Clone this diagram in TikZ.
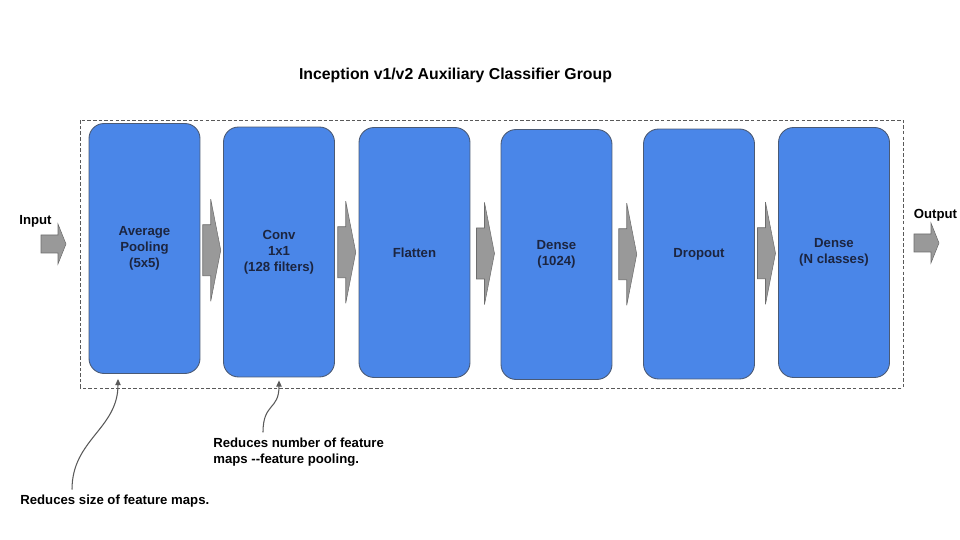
\documentclass[tikz,border=0pt]{standalone}
\usepackage{fontspec}
\setmainfont{Liberation Sans}
\usepackage{tikz}
\usetikzlibrary{arrows.meta, positioning, calc}
\definecolor{layerfill}{HTML}{4A86E8}
\definecolor{layerline}{HTML}{4A5A75}
\definecolor{layertext}{HTML}{1C2540}
\definecolor{arrowfill}{HTML}{999999}
\definecolor{arrowline}{HTML}{6D6D6D}
\definecolor{noteline}{HTML}{595959}

\begin{document}
\begin{tikzpicture}[
  x=0.02cm, y=0.02cm,
  every node/.style={font=\fontsize{7.5}{9.1}\selectfont\bfseries},
  layer/.style={fill=layerfill, draw=layerline, line width=0.5pt, rounded corners=0.3cm,
    minimum width=2.22cm, minimum height=5cm, align=center, text=layertext},
  blockarrow/.style={fill=arrowfill, draw=arrowline, line width=0.3pt},
  group/.style={draw=noteline, line width=0.5pt, dash pattern=on 2pt off 1.2pt},
  notearrow/.style={draw=noteline, line width=0.6pt, -{Triangle[length=3.5pt,width=3pt]}},
  note/.style={anchor=west, align=left, inner sep=0pt}
]
  \useasboundingbox (0,0) rectangle (960,540);

  % block arrows: tail at #1
  \def\bigarrow#1{%
    \draw[blockarrow] (#1) ++(0,-25.5) -- ++(8,0) -- ++(0,-25.5) -- ++(10,51)
      -- ++(-10,51) -- ++(0,-25.5) -- ++(-8,0) -- cycle;
  }
  \def\smallarrow#1{%
    \draw[blockarrow] (#1) ++(0,-9) -- ++(17,0) -- ++(0,-11) -- ++(8,20)
      -- ++(-8,20) -- ++(0,-11) -- ++(-17,0) -- cycle;
  }

  \node[font=\fontsize{9}{11}\selectfont\bfseries] (title) at (455.5,465)
    {Inception v1/v2 Auxiliary Classifier Group};

  \draw[group] (80,152) rectangle (903,420);

  \node[layer] (pool)    at (144.5,291.5) {Average\\Pooling\\(5x5)};
  \node[layer] (conv)    at (279,288)     {Conv\\1x1\\(128 filters)};
  \node[layer] (flatten) at (414.5,287.5) {Flatten};
  \node[layer] (dense)   at (556.5,285.5) {Dense\\(1024)};
  \node[layer] (dropout) at (699,286)     {Dropout};
  \node[layer] (classes) at (834,287.5)   {Dense\\(N classes)};

  \coordinate (axis) at (0,297);
  \bigarrow{$($(pool.east)!0.5!(conv.west)$ |- axis)+(-9,0)$}
  \bigarrow{$($(conv.east)!0.5!(flatten.west)$ |- axis)+(-9,0)$}
  \bigarrow{$($(flatten.east)!0.5!(dense.west)$ |- axis)+(-9,0)$}
  \bigarrow{$($(dense.east)!0.5!(dropout.west)$ |- axis)+(-9,0)$}
  \bigarrow{$($(dropout.east)!0.5!(classes.west)$ |- axis)+(-9,0)$}

  \node (input) at (35.5,319) {Input};
  \smallarrow{41,296}
  \node (output) at (935.5,325) {Output};
  \smallarrow{914,297}

  \node[note] (note1) at (20,39) {Reduces size of feature maps.};
  \node[note] (note2) at (213,88) {Reduces number of feature\\maps -{}-feature pooling.};

  \draw[notearrow] ([xshift=52*0.02cm, yshift=0.1cm]note1.north west)
    .. controls +(0,50) and +(0,-50) .. ([shift={(-26.5,-5)}]pool.south);
  \draw[notearrow] ([xshift=50*0.02cm, yshift=0.1cm]note2.north west)
    .. controls +(0,30) and +(0,-30) .. ([shift={(0,-3)}]conv.south);
\end{tikzpicture}
\end{document}
